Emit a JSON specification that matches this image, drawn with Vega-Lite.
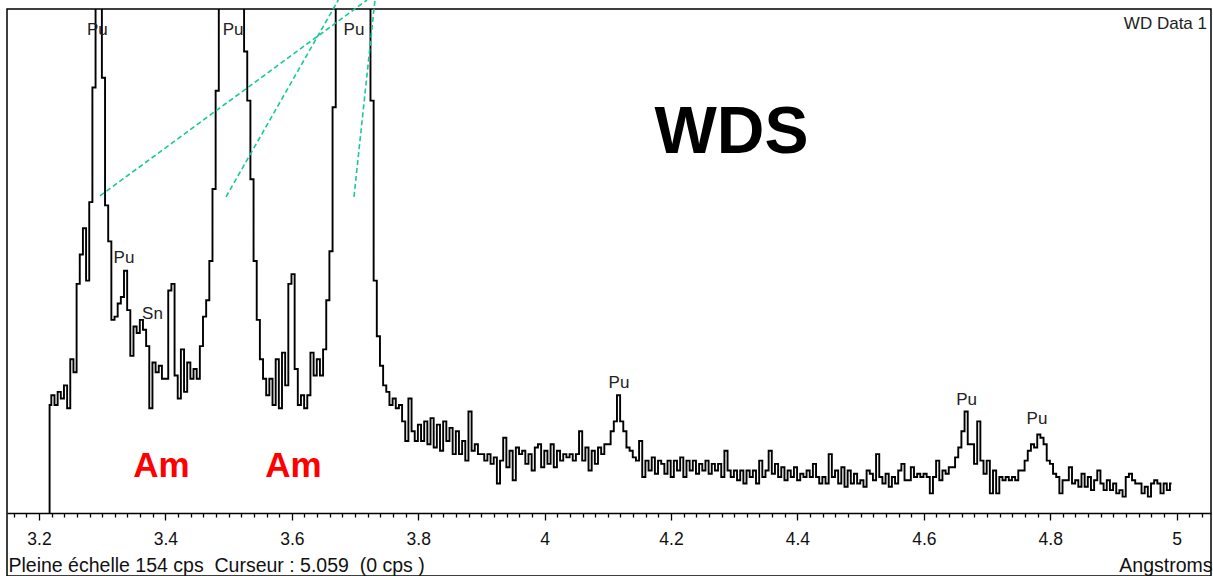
{
 "$schema": "https://vega.github.io/schema/vega-lite/v6.json",
 "width": 1204,
 "height": 567,
 "autosize": {"type": "none"},
 "padding": {"left": 7, "top": 9, "right": 2, "bottom": 0},
 "background": "white",
 "config": {"view": {"stroke": "#000", "strokeWidth": 1.5}, "font": "Liberation Sans"},
 "resolve": {"axis": {"x": "independent", "y": "independent"}},
 "datasets": {
  "spectrum": [
   {"wl":3.2165,"cps":0},
   {"wl":3.217,"cps":33},{"wl":3.222,"cps":36},{"wl":3.227,"cps":33},{"wl":3.232,"cps":37},{"wl":3.237,"cps":35},
   {"wl":3.242,"cps":39},{"wl":3.247,"cps":32},{"wl":3.252,"cps":47},{"wl":3.257,"cps":43},{"wl":3.262,"cps":70},
   {"wl":3.267,"cps":79},{"wl":3.272,"cps":87},{"wl":3.277,"cps":71},{"wl":3.282,"cps":95},{"wl":3.287,"cps":130},
   {"wl":3.292,"cps":400},{"wl":3.297,"cps":400},{"wl":3.302,"cps":133},{"wl":3.307,"cps":94},{"wl":3.312,"cps":83},
   {"wl":3.317,"cps":59},{"wl":3.322,"cps":60},{"wl":3.327,"cps":64},{"wl":3.332,"cps":66},{"wl":3.337,"cps":74},
   {"wl":3.342,"cps":62},{"wl":3.347,"cps":48},{"wl":3.352,"cps":57},{"wl":3.357,"cps":55},{"wl":3.362,"cps":59},
   {"wl":3.367,"cps":56},{"wl":3.372,"cps":51},{"wl":3.377,"cps":32},{"wl":3.382,"cps":46},{"wl":3.387,"cps":43},
   {"wl":3.392,"cps":45},{"wl":3.397,"cps":41},{"wl":3.402,"cps":41},{"wl":3.407,"cps":68},{"wl":3.412,"cps":70},
   {"wl":3.417,"cps":42},{"wl":3.422,"cps":35},{"wl":3.427,"cps":50},{"wl":3.432,"cps":37},{"wl":3.437,"cps":46},
   {"wl":3.442,"cps":41},{"wl":3.447,"cps":44},{"wl":3.452,"cps":41},{"wl":3.457,"cps":51},{"wl":3.462,"cps":60},
   {"wl":3.467,"cps":65},{"wl":3.472,"cps":77},{"wl":3.477,"cps":99},{"wl":3.482,"cps":129},{"wl":3.487,"cps":400},
   {"wl":3.492,"cps":400},{"wl":3.497,"cps":400},{"wl":3.502,"cps":400},{"wl":3.507,"cps":400},{"wl":3.512,"cps":400},
   {"wl":3.517,"cps":400},{"wl":3.522,"cps":400},{"wl":3.527,"cps":141},{"wl":3.532,"cps":126},{"wl":3.537,"cps":102},
   {"wl":3.542,"cps":77},{"wl":3.547,"cps":59},{"wl":3.552,"cps":47},{"wl":3.557,"cps":41},{"wl":3.562,"cps":36},
   {"wl":3.567,"cps":41},{"wl":3.572,"cps":33},{"wl":3.577,"cps":47},{"wl":3.582,"cps":32},{"wl":3.587,"cps":49},
   {"wl":3.592,"cps":39},{"wl":3.597,"cps":70},{"wl":3.602,"cps":73},{"wl":3.607,"cps":44},{"wl":3.612,"cps":33},
   {"wl":3.617,"cps":36},{"wl":3.622,"cps":32},{"wl":3.627,"cps":36},{"wl":3.632,"cps":49},{"wl":3.637,"cps":42},
   {"wl":3.642,"cps":47},{"wl":3.647,"cps":42},{"wl":3.652,"cps":50},{"wl":3.657,"cps":65},{"wl":3.662,"cps":80},
   {"wl":3.667,"cps":124},{"wl":3.672,"cps":400},{"wl":3.677,"cps":400},{"wl":3.682,"cps":400},{"wl":3.687,"cps":400},
   {"wl":3.692,"cps":400},{"wl":3.697,"cps":400},{"wl":3.702,"cps":400},{"wl":3.707,"cps":400},{"wl":3.712,"cps":400},
   {"wl":3.717,"cps":400},{"wl":3.722,"cps":400},{"wl":3.727,"cps":126},{"wl":3.732,"cps":71},{"wl":3.737,"cps":54},
   {"wl":3.742,"cps":45},{"wl":3.747,"cps":39},{"wl":3.752,"cps":37},{"wl":3.757,"cps":33},{"wl":3.762,"cps":35},
   {"wl":3.767,"cps":32},{"wl":3.772,"cps":33},{"wl":3.777,"cps":28},{"wl":3.782,"cps":22},{"wl":3.787,"cps":35},
   {"wl":3.792,"cps":25},{"wl":3.797,"cps":22},{"wl":3.802,"cps":27},{"wl":3.807,"cps":22},{"wl":3.812,"cps":28},
   {"wl":3.817,"cps":21},{"wl":3.822,"cps":29},{"wl":3.827,"cps":20},{"wl":3.832,"cps":27},{"wl":3.837,"cps":19},
   {"wl":3.842,"cps":28},{"wl":3.847,"cps":22},{"wl":3.852,"cps":26},{"wl":3.857,"cps":18},{"wl":3.862,"cps":25},
   {"wl":3.867,"cps":18},{"wl":3.872,"cps":22},{"wl":3.877,"cps":16},{"wl":3.882,"cps":31},{"wl":3.887,"cps":19},
   {"wl":3.892,"cps":21},{"wl":3.897,"cps":18},{"wl":3.902,"cps":18},{"wl":3.907,"cps":16},{"wl":3.912,"cps":18},
   {"wl":3.917,"cps":15},{"wl":3.922,"cps":17},{"wl":3.927,"cps":9},{"wl":3.932,"cps":16},{"wl":3.937,"cps":23},
   {"wl":3.942,"cps":14},{"wl":3.947,"cps":19},{"wl":3.952,"cps":10},{"wl":3.957,"cps":20},{"wl":3.962,"cps":18},
   {"wl":3.967,"cps":19},{"wl":3.972,"cps":15},{"wl":3.977,"cps":18},{"wl":3.982,"cps":13},{"wl":3.987,"cps":20},
   {"wl":3.992,"cps":21},{"wl":3.997,"cps":14},{"wl":4.002,"cps":19},{"wl":4.007,"cps":15},{"wl":4.012,"cps":21},
   {"wl":4.017,"cps":14},{"wl":4.022,"cps":19},{"wl":4.027,"cps":16},{"wl":4.032,"cps":18},{"wl":4.037,"cps":17},
   {"wl":4.042,"cps":18},{"wl":4.047,"cps":16},{"wl":4.052,"cps":18},{"wl":4.057,"cps":25},{"wl":4.062,"cps":16},
   {"wl":4.067,"cps":20},{"wl":4.072,"cps":13},{"wl":4.077,"cps":19},{"wl":4.082,"cps":15},{"wl":4.087,"cps":20},
   {"wl":4.092,"cps":18},{"wl":4.097,"cps":21},{"wl":4.102,"cps":21},{"wl":4.107,"cps":25},{"wl":4.112,"cps":28},
   {"wl":4.117,"cps":36},{"wl":4.122,"cps":28},{"wl":4.127,"cps":25},{"wl":4.132,"cps":20},{"wl":4.137,"cps":19},
   {"wl":4.142,"cps":17},{"wl":4.147,"cps":16},{"wl":4.152,"cps":22},{"wl":4.157,"cps":11},{"wl":4.162,"cps":16},
   {"wl":4.167,"cps":13},{"wl":4.172,"cps":17},{"wl":4.177,"cps":12},{"wl":4.182,"cps":16},{"wl":4.187,"cps":15},
   {"wl":4.192,"cps":12},{"wl":4.197,"cps":16},{"wl":4.202,"cps":11},{"wl":4.207,"cps":16},{"wl":4.212,"cps":13},
   {"wl":4.217,"cps":17},{"wl":4.222,"cps":11},{"wl":4.227,"cps":16},{"wl":4.232,"cps":13},{"wl":4.237,"cps":16},
   {"wl":4.242,"cps":12},{"wl":4.247,"cps":15},{"wl":4.252,"cps":13},{"wl":4.257,"cps":16},{"wl":4.262,"cps":12},
   {"wl":4.267,"cps":15},{"wl":4.272,"cps":13},{"wl":4.277,"cps":15},{"wl":4.282,"cps":11},{"wl":4.287,"cps":19},
   {"wl":4.292,"cps":13},{"wl":4.297,"cps":11},{"wl":4.302,"cps":13},{"wl":4.307,"cps":10},{"wl":4.312,"cps":13},
   {"wl":4.317,"cps":9},{"wl":4.322,"cps":13},{"wl":4.327,"cps":11},{"wl":4.332,"cps":13},{"wl":4.337,"cps":9},
   {"wl":4.342,"cps":16},{"wl":4.347,"cps":11},{"wl":4.352,"cps":13},{"wl":4.357,"cps":19},{"wl":4.362,"cps":12},
   {"wl":4.367,"cps":15},{"wl":4.372,"cps":11},{"wl":4.377,"cps":14},{"wl":4.382,"cps":10},{"wl":4.387,"cps":13},
   {"wl":4.392,"cps":11},{"wl":4.397,"cps":14},{"wl":4.402,"cps":10},{"wl":4.407,"cps":12},{"wl":4.412,"cps":11},
   {"wl":4.417,"cps":13},{"wl":4.422,"cps":11},{"wl":4.427,"cps":15},{"wl":4.432,"cps":11},{"wl":4.437,"cps":9},
   {"wl":4.442,"cps":11},{"wl":4.447,"cps":9},{"wl":4.452,"cps":18},{"wl":4.457,"cps":11},{"wl":4.462,"cps":13},
   {"wl":4.467,"cps":9},{"wl":4.472,"cps":14},{"wl":4.477,"cps":8},{"wl":4.482,"cps":13},{"wl":4.487,"cps":9},
   {"wl":4.492,"cps":12},{"wl":4.497,"cps":9},{"wl":4.502,"cps":10},{"wl":4.507,"cps":8},{"wl":4.512,"cps":13},
   {"wl":4.517,"cps":12},{"wl":4.522,"cps":10},{"wl":4.527,"cps":18},{"wl":4.532,"cps":11},{"wl":4.537,"cps":9},
   {"wl":4.542,"cps":12},{"wl":4.547,"cps":8},{"wl":4.552,"cps":11},{"wl":4.557,"cps":9},{"wl":4.562,"cps":13},
   {"wl":4.567,"cps":15},{"wl":4.572,"cps":10},{"wl":4.577,"cps":10},{"wl":4.582,"cps":14},{"wl":4.587,"cps":11},
   {"wl":4.592,"cps":12},{"wl":4.597,"cps":11},{"wl":4.602,"cps":12},{"wl":4.607,"cps":11},{"wl":4.612,"cps":6},
   {"wl":4.617,"cps":11},{"wl":4.622,"cps":16},{"wl":4.627,"cps":10},{"wl":4.632,"cps":13},{"wl":4.637,"cps":12},
   {"wl":4.642,"cps":14},{"wl":4.647,"cps":14},{"wl":4.652,"cps":17},{"wl":4.657,"cps":20},{"wl":4.662,"cps":25},
   {"wl":4.667,"cps":31},{"wl":4.672,"cps":21},{"wl":4.677,"cps":21},{"wl":4.682,"cps":15},{"wl":4.687,"cps":28},
   {"wl":4.692,"cps":16},{"wl":4.697,"cps":12},{"wl":4.702,"cps":16},{"wl":4.707,"cps":6},{"wl":4.712,"cps":13},
   {"wl":4.717,"cps":6},{"wl":4.722,"cps":11},{"wl":4.727,"cps":10},{"wl":4.732,"cps":11},{"wl":4.737,"cps":10},
   {"wl":4.742,"cps":11},{"wl":4.747,"cps":10},{"wl":4.752,"cps":13},{"wl":4.757,"cps":13},{"wl":4.762,"cps":16},
   {"wl":4.767,"cps":19},{"wl":4.772,"cps":21},{"wl":4.777,"cps":20},{"wl":4.782,"cps":24},{"wl":4.787,"cps":23},
   {"wl":4.792,"cps":21},{"wl":4.797,"cps":16},{"wl":4.802,"cps":15},{"wl":4.807,"cps":12},{"wl":4.812,"cps":11},
   {"wl":4.817,"cps":6},{"wl":4.822,"cps":10},{"wl":4.827,"cps":10},{"wl":4.832,"cps":14},{"wl":4.837,"cps":9},
   {"wl":4.842,"cps":10},{"wl":4.847,"cps":8},{"wl":4.852,"cps":12},{"wl":4.857,"cps":8},{"wl":4.862,"cps":11},
   {"wl":4.867,"cps":7},{"wl":4.872,"cps":10},{"wl":4.877,"cps":13},{"wl":4.882,"cps":9},{"wl":4.887,"cps":7},
   {"wl":4.892,"cps":10},{"wl":4.897,"cps":7},{"wl":4.902,"cps":9},{"wl":4.907,"cps":6},{"wl":4.912,"cps":7},
   {"wl":4.917,"cps":5},{"wl":4.922,"cps":11},{"wl":4.927,"cps":12},{"wl":4.932,"cps":10},{"wl":4.937,"cps":9},
   {"wl":4.942,"cps":9},{"wl":4.947,"cps":6},{"wl":4.952,"cps":8},{"wl":4.957,"cps":5},{"wl":4.962,"cps":9},
   {"wl":4.967,"cps":10},{"wl":4.972,"cps":9},{"wl":4.977,"cps":6},{"wl":4.982,"cps":9},{"wl":4.987,"cps":7},
   {"wl":4.992,"cps":9}
  ],
  "guides": [
   {"wl":3.2965,"cps":96.9,"wl2":3.719,"cps2":156.75},
   {"wl":3.4959,"cps":96.6,"wl2":3.6736,"cps2":156.75},
   {"wl":3.6984,"cps":96.6,"wl2":3.7316,"cps2":156.75}
  ],
  "peaks": [
   {"label":"Pu","wl":3.2923,"cps":146},
   {"label":"Pu","wl":3.507,"cps":146},
   {"label":"Pu","wl":3.6984,"cps":146},
   {"label":"Pu","wl":3.3345,"cps":76.4},
   {"label":"Sn","wl":3.3796,"cps":59.3},
   {"label":"Pu","wl":4.1177,"cps":38.2},
   {"label":"Pu","wl":4.6676,"cps":33},
   {"label":"Pu","wl":4.7791,"cps":27.2}
  ],
  "am": [
   {"label":"Am","wl":3.3938,"cps":11},
   {"label":"Am","wl":3.6027,"cps":11}
  ],
  "method": [{"label":"WDS","wl":4.2957,"cps":110}],
  "dataset": [{"label":"WD Data 1","wl":5.0481,"cps":147.9}]
 },
 "layer": [
  {
   "data": {"name": "spectrum"},
   "mark": {"type": "line", "interpolate": "step", "color": "#000", "strokeWidth": 1.9, "clip": true},
   "encoding": {
    "x": {"field": "wl", "type": "quantitative",
     "scale": {"domain": [3.14937, 5.05443], "nice": false, "zero": false},
     "axis": {
      "orient": "bottom", "offset": -63,
      "values": [3.16,3.18,3.2,3.22,3.24,3.26,3.28,3.3,3.32,3.34,3.36,3.38,3.4,3.42,3.44,3.46,3.48,3.5,3.52,3.54,3.56,3.58,3.6,3.62,3.64,3.66,3.68,3.7,3.72,3.74,3.76,3.78,3.8,3.82,3.84,3.86,3.88,3.9,3.92,3.94,3.96,3.98,4.0,4.02,4.04,4.06,4.08,4.1,4.12,4.14,4.16,4.18,4.2,4.22,4.24,4.26,4.28,4.3,4.32,4.34,4.36,4.38,4.4,4.42,4.44,4.46,4.48,4.5,4.52,4.54,4.56,4.58,4.6,4.62,4.64,4.66,4.68,4.7,4.72,4.74,4.76,4.78,4.8,4.82,4.84,4.86,4.88,4.9,4.92,4.94,4.96,4.98,5.0,5.02,5.04],
      "domain": true, "domainColor": "#000", "domainWidth": 1.5,
      "ticks": true, "tickColor": "#000", "tickWidth": 1.3,
      "tickSize": {"condition": {"test": "abs(round(datum.value*5)-datum.value*5) < 0.001", "value": 7}, "value": 4},
      "labelExpr": "abs(round(datum.value*5)-datum.value*5) < 0.001 ? format(datum.value, '~g') : ''",
      "labelFont": "Liberation Sans", "labelFontSize": 17.5, "labelColor": "#111",
      "labelPadding": 10, "labelOverlap": false, "labelFlush": false, "grid": false,
      "title": "Angstroms", "titleFont": "Liberation Sans", "titleFontSize": 19.5, "titleFontWeight": "normal",
      "titleColor": "#111", "titleAlign": "right", "titleAnchor": "end", "titleX": 1205, "titleY": 58,
      "titleBaseline": "alphabetic"
     }
    },
    "y": {"field": "cps", "type": "quantitative",
     "scale": {"domain": [-19.25, 154], "nice": false, "zero": false}, "axis": null}
   }
  },
  {
   "data": {"name": "guides"},
   "mark": {"type": "rule", "color": "#16c99a", "strokeWidth": 1.6, "strokeDash": [5, 3]},
   "encoding": {
    "x": {"field": "wl", "type": "quantitative", "axis": null},
    "x2": {"field": "wl2"},
    "y": {"field": "cps", "type": "quantitative", "axis": null},
    "y2": {"field": "cps2"}
   }
  },
  {
   "data": {"name": "peaks"},
   "mark": {"type": "text", "font": "Liberation Sans", "fontSize": 17, "color": "#222", "align": "center", "baseline": "alphabetic"},
   "encoding": {
    "x": {"field": "wl", "type": "quantitative",
     "axis": {
      "orient": "bottom", "offset": -63, "domain": false, "ticks": false, "labels": false, "grid": false,
      "title": "Pleine échelle 154 cps\u00a0\u00a0Curseur : 5.059\u00a0\u00a0(0 cps )",
      "titleFont": "Liberation Sans", "titleFontSize": 19.5, "titleFontWeight": "normal", "titleColor": "#111",
      "titleAlign": "left", "titleAnchor": "start", "titleX": 1, "titleY": 58, "titleBaseline": "alphabetic"
     }
    },
    "y": {"field": "cps", "type": "quantitative", "axis": null},
    "text": {"field": "label"}
   }
  },
  {
   "data": {"name": "am"},
   "mark": {"type": "text", "font": "Liberation Sans", "fontSize": 35, "fontWeight": "bold", "color": "#ff0000", "align": "center", "baseline": "alphabetic"},
   "encoding": {
    "x": {"field": "wl", "type": "quantitative", "axis": null},
    "y": {"field": "cps", "type": "quantitative", "axis": null},
    "text": {"field": "label"}
   }
  },
  {
   "data": {"name": "method"},
   "mark": {"type": "text", "font": "Liberation Sans", "fontSize": 66, "fontWeight": "bold", "color": "#000", "align": "center", "baseline": "alphabetic"},
   "encoding": {
    "x": {"field": "wl", "type": "quantitative", "axis": null},
    "y": {"field": "cps", "type": "quantitative", "axis": null},
    "text": {"field": "label"}
   }
  },
  {
   "data": {"name": "dataset"},
   "mark": {"type": "text", "font": "Liberation Sans", "fontSize": 17, "color": "#222", "align": "right", "baseline": "alphabetic"},
   "encoding": {
    "x": {"field": "wl", "type": "quantitative", "axis": null},
    "y": {"field": "cps", "type": "quantitative", "axis": null},
    "text": {"field": "label"}
   }
  }
 ]
}
